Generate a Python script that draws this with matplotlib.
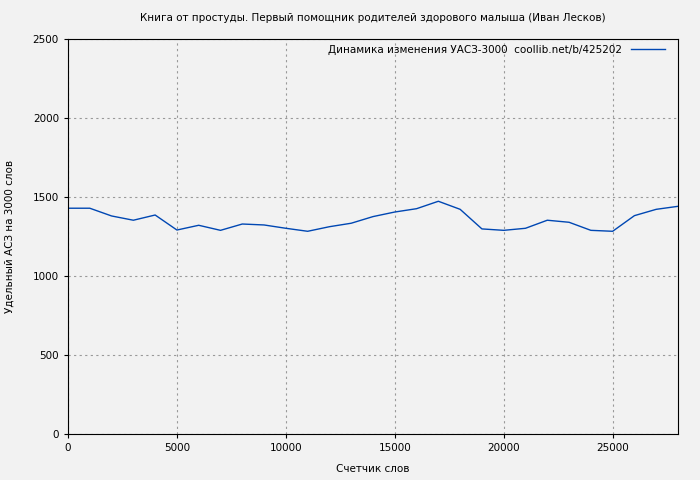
import matplotlib
matplotlib.use("Agg")
import matplotlib.pyplot as plt

# --- Datos ---
palabras = [0, 1000, 2000, 3000, 4000, 5000, 6000, 7000, 8000, 9000, 10000,
            11000, 12000, 13000, 14000, 15000, 16000, 17000, 18000, 19000,
            20000, 21000, 22000, 23000, 24000, 25000, 26000, 27000, 28000]
uasz = [1429, 1429, 1380, 1353, 1386, 1291, 1321, 1289, 1329, 1323, 1302,
        1283, 1312, 1334, 1376, 1405, 1426, 1473, 1422, 1298,
        1289, 1302, 1353, 1340, 1289, 1283, 1382, 1422, 1441]
x_ticks = [0, 5000, 10000, 15000, 20000, 25000]
y_ticks = [0, 500, 1000, 1500, 2000, 2500]

titulo = "Книга от простуды. Первый помощник родителей здорового малыша (Иван Лесков)"
leyenda = "Динамика изменения УАСЗ-3000  coollib.net/b/425202"

plt.rcParams['font.family'] = ['DejaVu Sans']
plt.rcParams['font.size'] = 7.5

fig = plt.figure(figsize=(7, 4.8), dpi=100)
fig.patch.set_facecolor('#f2f2f2')
ax = fig.add_axes([68/700, 1 - 434/480, 610/700, 395/480])
ax.set_facecolor('#f2f2f2')

ax.plot(palabras, uasz, color='#0047b3', linewidth=1, label=leyenda)

ax.set_xlim(0, 28000)
ax.set_ylim(0, 2500)
ax.set_xticks(x_ticks)
ax.set_yticks(y_ticks)
ax.grid(True, linestyle=(0, (2, 3)), color='#999999', linewidth=0.8)
ax.tick_params(direction='out', length=3, labelsize=7.5)

# titulo centrado sobre el area de ejes
fig.text(373/700, 1 - 18/480, titulo, ha='center', va='center', fontsize=7.5)
ax.set_xlabel("Счетчик слов", fontsize=7.5)
ax.xaxis.set_label_coords(0.5, -30/395)
ax.set_ylabel("Удельный АСЗ на 3000 слов", fontsize=7.5)
ax.yaxis.set_label_coords(-53/610, 0.5)

ax.legend(loc='upper right', frameon=False, fontsize=7.5, markerfirst=False,
          handlelength=3.2, borderaxespad=0, handletextpad=0.9,
          bbox_to_anchor=(0.985, 0.995))

fig.savefig("out.png", dpi=100, facecolor=fig.get_facecolor())
